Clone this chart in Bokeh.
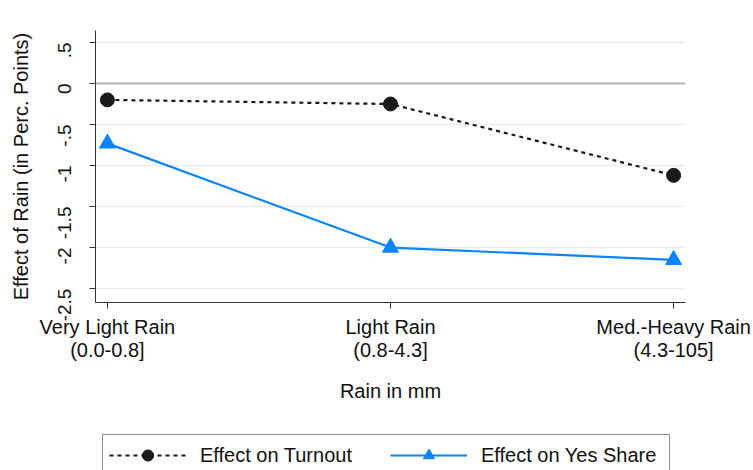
from bokeh.plotting import figure
from bokeh.layouts import column
from bokeh.models import FixedTicker, Span, Legend, LegendItem, Range1d
from bokeh.embed import file_html
from bokeh.resources import INLINE

categories = ["Very Light Rain\n(0.0-0.8]", "Light Rain\n(0.8-4.3]", "Med.-Heavy Rain\n(4.3-105]"]
cat_pos = [0, 1, 2]
turnout = [-0.2, -0.25, -1.12]
yes_share = [-0.73, -2.0, -2.15]
y_ticks = [0.5, 0, -0.5, -1, -1.5, -2, -2.5]
y_tick_labels = [".5", "0", "-.5", "-1", "-1.5", "-2", "-2.5"]
series_names = ["Effect on Turnout", "Effect on Yes Share"]

FONT = "Liberation Sans"
BLUE = "#0a84ff"
DARK = "#1a1a1a"

p = figure(width=753, height=420, output_backend="svg", toolbar_location=None,
           x_range=Range1d(-0.042, 2.042), y_range=Range1d(-2.67, 0.646),
           min_border_left=95, min_border_top=30, min_border_right=68, min_border_bottom=118)
p.outline_line_color = None
p.background_fill_color = "white"
p.border_fill_color = "white"

# axes
p.xaxis.ticker = FixedTicker(ticks=cat_pos)
p.xaxis.major_label_overrides = {i: c for i, c in zip(cat_pos, categories)}
p.xaxis.axis_label = "Rain in mm"
p.yaxis.ticker = FixedTicker(ticks=y_ticks)
p.yaxis.major_label_overrides = {t: l for t, l in zip(y_ticks, y_tick_labels)}
p.yaxis.axis_label = "Effect of Rain (in Perc. Points)"
p.yaxis.major_label_orientation = 1.5707963

for ax in (p.xaxis[0], p.yaxis[0]):
    ax.axis_line_color = "#333333"
    ax.major_tick_line_color = "#333333"
    ax.minor_tick_line_color = None
    ax.major_tick_out = 6
    ax.major_tick_in = 0
    ax.major_label_text_font = FONT
    ax.major_label_text_font_size = "20px"
    ax.major_label_text_color = "#111111"
    ax.axis_label_text_font = FONT
    ax.axis_label_text_font_size = "20px"
    ax.axis_label_text_font_style = "normal"
    ax.axis_label_text_color = "#111111"
p.yaxis.major_label_text_font_size = "19px"
p.xaxis.major_label_text_line_height = 1.05
p.xaxis.major_label_standoff = 7
p.xaxis.axis_label_standoff = 16
p.yaxis.major_label_standoff = 25
p.yaxis.axis_label_standoff = 17

p.xgrid.grid_line_color = None
p.ygrid.ticker = FixedTicker(ticks=y_ticks)
p.ygrid.grid_line_color = "#e6eef1"
p.ygrid.grid_line_width = 1.5

zero = Span(location=0, dimension="width", line_color="#b3b3b3", line_width=2)
p.add_layout(zero)

line_kw = [dict(line_color=DARK, line_width=2.2, line_dash="4 4"),
           dict(line_color=BLUE, line_width=2.2)]
mark_kw = [dict(marker="circle", size=14, fill_color=DARK, line_color=DARK),
           dict(marker="triangle", size=16, fill_color=BLUE, line_color=BLUE)]

p.line(cat_pos, turnout, **line_kw[0])
p.scatter(cat_pos, turnout, **mark_kw[0])
p.line(cat_pos, yes_share, **line_kw[1])
p.scatter(cat_pos, yes_share, **mark_kw[1])

# legend strip below the chart
q = figure(width=753, height=50, output_backend="svg", toolbar_location=None,
           x_range=Range1d(0, 1), y_range=Range1d(0, 1),
           min_border_left=0, min_border_right=0, min_border_top=0, min_border_bottom=0)
q.axis.visible = False
q.grid.visible = False
q.outline_line_color = None
q.background_fill_color = "white"
q.border_fill_color = "white"

nan = float("nan")
items = []
for name, lk, mk in zip(series_names, line_kw, mark_kw):
    lr = q.line(x=[nan, nan], y=[nan, nan], **lk)
    sr = q.scatter(x=[nan], y=[nan], **mk)
    items.append(LegendItem(label=name, renderers=[lr, sr]))

legend = Legend(items=items, orientation="horizontal", location=(7, -6),
                glyph_width=77, glyph_height=28, label_standoff=14, spacing=8,
                label_width=182, padding=6, margin=0,
                label_text_font=FONT, label_text_font_size="20px", label_text_color="#111111",
                border_line_color="#222222", border_line_width=1.2,
                background_fill_color="white", background_fill_alpha=1)
q.add_layout(legend, "center")

layout = column(p, q, spacing=0)
open("out.html", "w").write(file_html(layout, INLINE))
